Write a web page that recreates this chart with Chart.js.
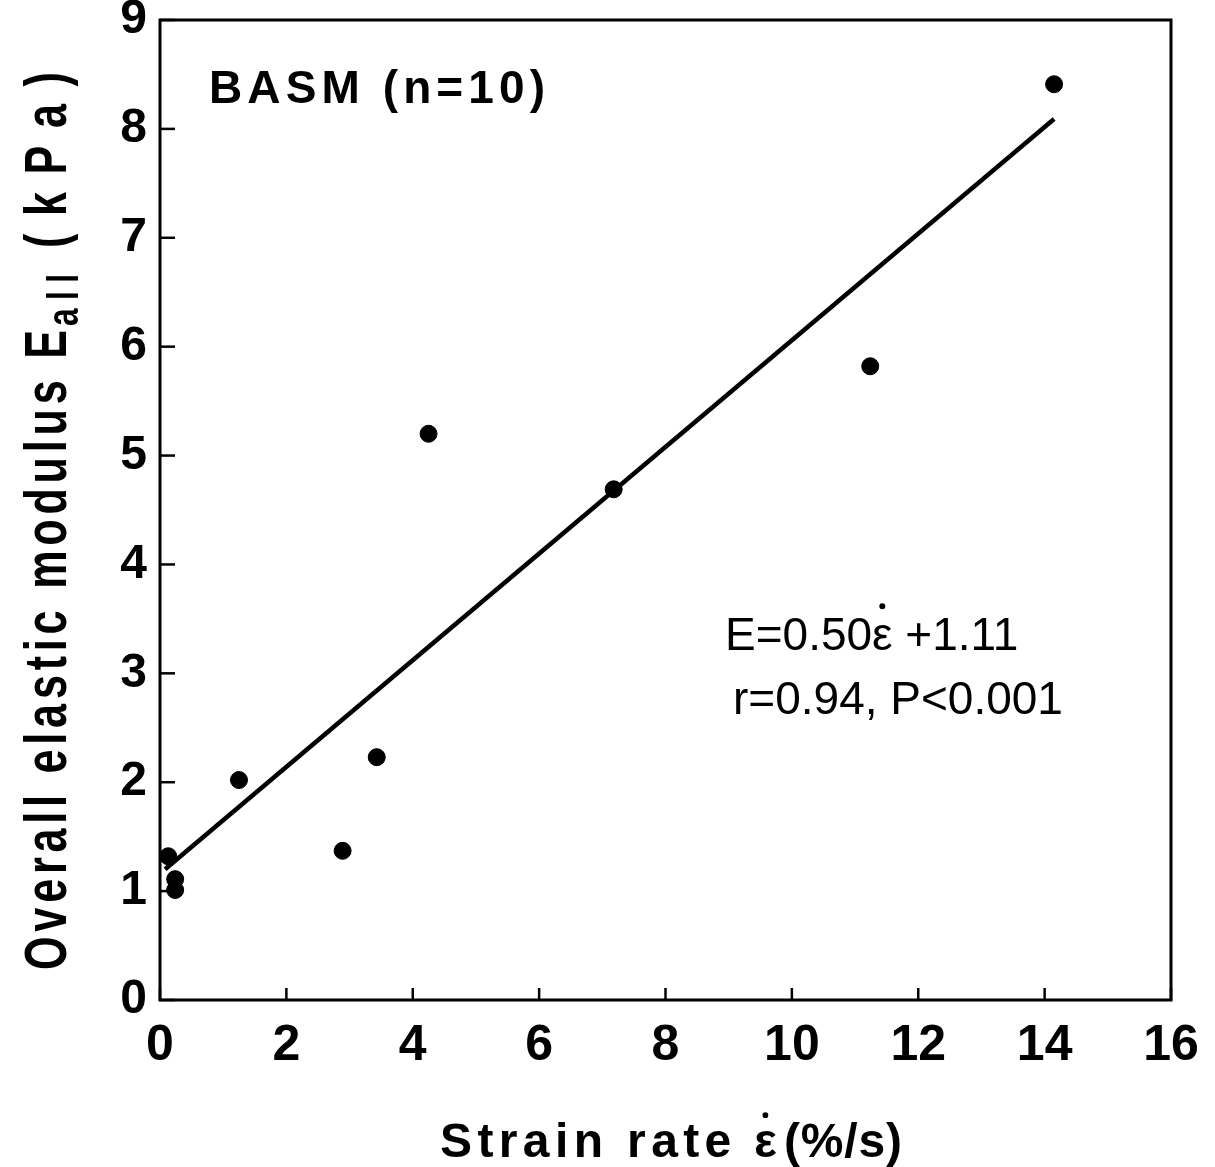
<!DOCTYPE html>
<html>
<head>
<meta charset="utf-8">
<script src="https://cdn.jsdelivr.net/npm/chart.js@4/dist/chart.umd.min.js"></script>
<style>
  html, body { margin: 0; padding: 0; background: #fff; }
  #wrap { width: 1215px; height: 1167px; }
</style>
</head>
<body>
<div id="wrap"><canvas id="modChart"></canvas></div>
<script>
// strain rate (%/s) and overall elastic modulus (kPa)
const strainRate = [0.13, 0.24, 0.24, 1.25, 2.89, 3.43, 4.25, 7.18, 11.24, 14.15];
const modulus    = [1.32, 1.11, 1.01, 2.02, 1.37, 2.23, 5.20, 4.69, 5.82, 8.41];
// regression line ends as drawn
const fitX = [0.08, 14.15];
const fitY = [1.20, 8.09];
const xTicks = [0, 2, 4, 6, 8, 10, 12, 14, 16];
const yTicks = [0, 1, 2, 3, 4, 5, 6, 7, 8, 9];

const FONT = "'Liberation Sans', Arial, sans-serif";

// write text with a fixed total width by spreading the letters
function spreadText(ctx, txt, x, y, width) {
  ctx.letterSpacing = "0px";
  const w = ctx.measureText(txt).width;
  const gap = (width - w) / Math.max(1, txt.length - 1);
  ctx.letterSpacing = gap + "px";
  ctx.fillText(txt, x, y);
  ctx.letterSpacing = "0px";
}

// epsilon with a dot above it, returns its width
function epsDot(ctx, x, y, size) {
  const w = ctx.measureText("\u03B5").width;
  ctx.fillText("\u03B5", x, y);
  ctx.beginPath();
  ctx.arc(x + w / 2, y - size * 0.95, size * 0.065, 0, Math.PI * 2);
  ctx.fill();
  return w;
}

// titles, annotations, frame and inward ticks
const decor = {
  id: "decor",
  afterDraw(chart) {
    const ctx = chart.ctx;
    const a = chart.chartArea;
    const xs = chart.scales.x, ys = chart.scales.y;
    ctx.save();
    ctx.strokeStyle = "#000";
    ctx.fillStyle = "#000";
    ctx.lineWidth = 3;
    ctx.strokeRect(a.left, a.top, a.right - a.left, a.bottom - a.top);

    ctx.lineWidth = 2.5;
    xTicks.forEach(v => {
      const px = xs.getPixelForValue(v);
      ctx.beginPath(); ctx.moveTo(px, a.bottom); ctx.lineTo(px, a.bottom - 12); ctx.stroke();
    });
    yTicks.forEach(v => {
      const py = ys.getPixelForValue(v);
      ctx.beginPath(); ctx.moveTo(a.left, py); ctx.lineTo(a.left + 15, py); ctx.stroke();
    });

    ctx.textBaseline = "alphabetic";
    ctx.textAlign = "left";

    // box label
    ctx.font = "bold 46px " + FONT;
    spreadText(ctx, "BASM (n=10)", 209, 103, 336);

    // regression text
    ctx.font = "46px " + FONT;
    let x = 725;
    ctx.fillText("E=0.50", x, 650);
    x += ctx.measureText("E=0.50").width;
    x += epsDot(ctx, x, 650, 46);
    ctx.fillText(" +1.11", x, 650);
    ctx.fillText("r=0.94, P<0.001", 733, 714);

    // x title
    ctx.font = "bold 48px " + FONT;
    spreadText(ctx, "Strain rate ", 440, 1157, 310);
    epsDot(ctx, 754, 1157, 44);
    spreadText(ctx, "(%/s)", 784, 1157, 118);

    // y title with subscript, narrow bold face
    ctx.translate(66, 520);
    ctx.rotate(-Math.PI / 2);
    ctx.scale(0.72, 1);
    const k = 1 / 0.72;
    const y0 = -450 * k;
    ctx.font = "bold 60px " + FONT;
    spreadText(ctx, "Overall elastic modulus E", y0, 0, 640 * k);
    ctx.font = "bold 44px " + FONT;
    spreadText(ctx, "all", y0 + 644 * k, 12, 52 * k);
    ctx.font = "bold 60px " + FONT;
    spreadText(ctx, "(kPa)", y0 + 722 * k, 0, 176 * k);
    ctx.restore();
  }
};

const points = strainRate.map((x, i) => ({ x: x, y: modulus[i] }));
const fitLine = fitX.map((x, i) => ({ x: x, y: fitY[i] }));

new Chart(document.getElementById("modChart"), {
  type: "scatter",
  data: {
    datasets: [
      {
        label: "BASM",
        data: points,
        backgroundColor: "#000",
        borderColor: "#000",
        pointRadius: 8.5,
        pointHoverRadius: 8.5
      },
      {
        type: "line",
        label: "fit",
        data: fitLine,
        borderColor: "#000",
        borderWidth: 4.5,
        pointRadius: 0,
        fill: false
      }
    ]
  },
  options: {
    responsive: true,
    maintainAspectRatio: false,
    animation: false,
    layout: { padding: { top: 20, right: 44, left: 0, bottom: 0 } },
    plugins: { legend: { display: false }, tooltip: { enabled: false } },
    scales: {
      x: {
        type: "linear",
        min: 0, max: 16,
        afterFit: s => { s.height = 167; s.paddingLeft = 0; s.paddingRight = 0; },
        afterBuildTicks: s => { s.ticks = xTicks.map(v => ({ value: v })); },
        grid: { display: false, drawTicks: false },
        border: { display: false },
        ticks: { color: "#000", padding: 16, font: { family: FONT, size: 50, weight: "bold" } }
      },
      y: {
        type: "linear",
        min: 0, max: 9,
        afterFit: s => { s.width = 160; s.paddingTop = 0; s.paddingBottom = 0; },
        afterBuildTicks: s => { s.ticks = yTicks.map(v => ({ value: v })); },
        grid: { display: false, drawTicks: false },
        border: { display: false },
        ticks: { color: "#000", padding: 13, font: { family: FONT, size: 48, weight: "bold" } }
      }
    }
  },
  plugins: [decor]
});
</script>
</body>
</html>
